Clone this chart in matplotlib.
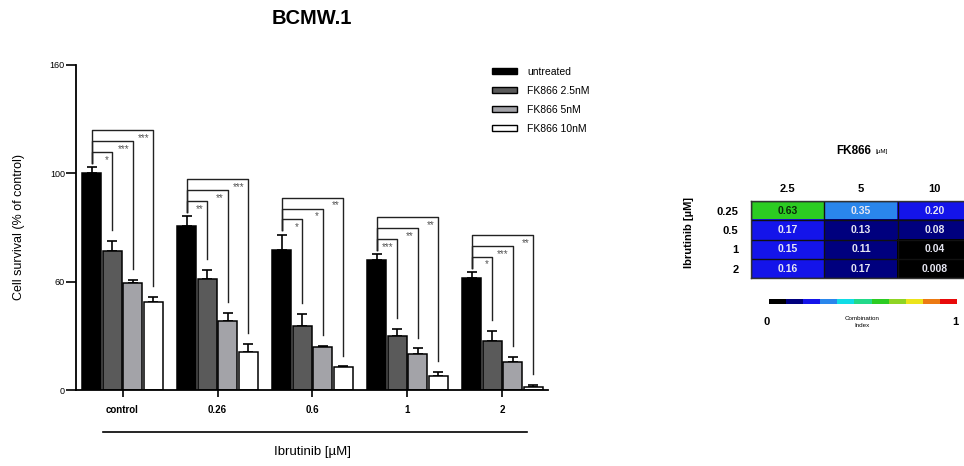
import numpy as np
import matplotlib
matplotlib.use('Agg')
import matplotlib.pyplot as plt
from matplotlib.colors import ListedColormap, BoundaryNorm
from matplotlib.lines import Line2D
from matplotlib.patches import Patch
import matplotlib as mpl

plt.rcParams['font.family'] = ['Liberation Sans', 'DejaVu Sans']

# bar chart data (% of control)
groups = ['control', '0.26', '0.6', '1', '2']
series = ['untreated', 'FK866 2.5nM', 'FK866 5nM', 'FK866 10nM']
untreated = [100.0, 75.9, 64.5, 59.9, 51.5]
fk_25 = [64.2, 51.3, 29.5, 24.9, 22.7]
fk_5 = [49.2, 31.8, 19.7, 16.6, 12.9]
fk_10 = [40.7, 17.4, 10.5, 6.6, 1.2]
err_untreated = [2.8, 4.3, 7.2, 2.8, 2.9]
err_25 = [4.6, 4.0, 5.8, 3.2, 4.6]
err_5 = [1.5, 3.8, 0.6, 2.6, 2.2]
err_10 = [2.3, 3.8, 0.4, 1.7, 1.0]
# significance vs untreated (2.5nM, 5nM, 10nM)
stars = [['*', '***', '***'],
         ['**', '**', '***'],
         ['*', '*', '**'],
         ['***', '**', '**'],
         ['*', '***', '**']]
ytick_vals = [0, 50, 100, 150]
ytick_labels = ['0', '60', '100', '160']

# combination index table
fk_doses = ['2.5', '5', '10']
ibr_doses = ['0.25', '0.5', '1', '2']
ci_text = [['0.63', '0.35', '0.20'],
           ['0.17', '0.13', '0.08'],
           ['0.15', '0.11', '0.04'],
           ['0.16', '0.17', '0.008']]
# colour class of each cell as shown (0..10 on the 0-1 scale)
ci_level = [[6, 3, 2],
            [2, 1, 1],
            [2, 1, 0],
            [2, 1, 0]]
ci_colors = ['#000000', '#00007e', '#1414ea', '#2a86ec', '#10dce6', '#22d98a',
             '#2ccc22', '#8fd424', '#ece41a', '#ec7a12', '#e80a0a']

values = [untreated, fk_25, fk_5, fk_10]
errors = [err_untreated, err_25, err_5, err_10]
bar_colors = ['#000000', '#5a5a5a', '#a3a3a8', '#ffffff']

fig = plt.figure(figsize=(9.64, 4.66), dpi=100)
ax = fig.add_axes([76 / 964, 76 / 466, 472 / 964, 325 / 466])

x = np.arange(len(groups))
w = 0.216
for i in range(4):
    xi = x + (i - 1.5) * w
    ax.bar(xi, values[i], width=w * 0.94, color=bar_colors[i],
           edgecolor='black', linewidth=1.1, zorder=2)
    ax.errorbar(xi, values[i], yerr=[np.zeros(len(groups)), errors[i]],
                fmt='none', ecolor='black', elinewidth=1.2, capsize=3.5,
                capthick=1.2, zorder=1)

for g in range(len(groups)):
    xb = g - 1.5 * w
    top_b = values[0][g] + errors[0][g]
    base = top_b + 7
    for j in range(1, 4):
        xj = g + (j - 1.5) * w
        h = base + (j - 1) * 5
        top_j = values[j][g] + errors[j][g] + 5
        ax.plot([xb, xb, xj, xj], [top_b + 2, h, h, top_j],
                color='#222222', lw=1.0, zorder=3)
        ax.text(xj - 0.04, h - 1.2, stars[g][j - 1], ha='right', va='top',
                fontsize=7, color='#555555')

ax.set_xlim(-0.49, 4.48)
ax.set_ylim(0, 150)
ax.set_yticks(ytick_vals)
ax.set_yticklabels(ytick_labels, fontsize=6.5)
ax.set_xticks(x)
ax.set_xticklabels(groups, fontsize=7, fontweight='bold')
ax.tick_params(axis='y', length=7, width=1.2, pad=1)
ax.tick_params(axis='x', length=5, width=1.2, pad=6)
for s in ['top', 'right']:
    ax.spines[s].set_visible(False)
for s in ['left', 'bottom']:
    ax.spines[s].set_linewidth(1.3)
ax.set_ylabel('Cell survival (% of control)', fontsize=9, labelpad=18)

fig.add_artist(Line2D([103 / 964, 527 / 964], [1 - 432 / 466, 1 - 432 / 466],
                      color='black', lw=1.2))
fig.text(313 / 964, 1 - 452 / 466, 'Ibrutinib [µM]', ha='center', va='center',
         fontsize=9.5)
fig.text(312 / 964, 1 - 19 / 466, 'BCMW.1', ha='center', va='center',
         fontsize=14.5, fontweight='bold')

handles = [Patch(facecolor=c, edgecolor='black', linewidth=1.0) for c in bar_colors]
ax.legend(handles, series, loc='upper left', bbox_to_anchor=(492 / 964, 1 - 67 / 466),
          bbox_transform=fig.transFigure, frameon=False, fontsize=7.5,
          handlelength=2.4, handleheight=0.45, handletextpad=1.0,
          labelspacing=0.85, borderpad=0, borderaxespad=0)

# heatmap
cmap = ListedColormap(ci_colors)
hx = fig.add_axes([751 / 964, 1 - 278.3 / 466, 220 / 964, 77.3 / 466])
hx.imshow(np.array(ci_level), cmap=cmap, vmin=-0.5, vmax=10.5, aspect='auto')
for r in range(len(ibr_doses)):
    for c in range(len(fk_doses)):
        col = '#0b2a0b' if ci_level[r][c] >= 5 else '#e6e6f2'
        hx.text(c, r, ci_text[r][c], ha='center', va='center', fontsize=7.5,
                fontweight='bold', color=col)
hx.set_xticks(np.arange(len(fk_doses) + 1) - 0.5, minor=True)
hx.set_yticks(np.arange(len(ibr_doses) + 1) - 0.5, minor=True)
hx.grid(which='minor', color='#111111', lw=1.0)
hx.tick_params(which='both', length=0)
hx.xaxis.tick_top()
hx.set_xticks(range(len(fk_doses)))
hx.set_xticklabels(fk_doses, fontsize=8, fontweight='bold')
hx.set_yticks(range(len(ibr_doses)))
hx.set_yticklabels(ibr_doses, fontsize=8, fontweight='bold')
hx.tick_params(axis='x', pad=5)
hx.tick_params(axis='y', pad=9)
for s in hx.spines.values():
    s.set_linewidth(1.0)
    s.set_color('#333333')

fig.text(871 / 964, 1 - 151 / 466, 'FK866', ha='right', va='center',
         fontsize=8.5, fontweight='bold')
fig.text(875 / 964, 1 - 152 / 466, '[µM]', ha='left', va='center', fontsize=4.5)
fig.text(689 / 964, 1 - 233 / 466, 'Ibrutinib [µM]', ha='center', va='center',
         rotation=90, fontsize=8, fontweight='bold')

cax = fig.add_axes([769 / 964, 1 - 304 / 466, 188 / 964, 5 / 466])
cb = mpl.colorbar.ColorbarBase(cax, cmap=cmap, norm=BoundaryNorm(np.linspace(0, 1, 12), 11),
                               orientation='horizontal')
cb.set_ticks([])
cax.minorticks_off()
cax.tick_params(which='both', length=0, labelbottom=False)
cb.outline.set_visible(False)
fig.text(767 / 964, 1 - 322 / 466, '0', ha='center', va='center', fontsize=8,
         fontweight='bold')
fig.text(955 / 964, 1 - 322 / 466, '1', ha='center', va='center', fontsize=8,
         fontweight='bold')
fig.text(862 / 964, 1 - 322 / 466, 'Combination\nIndex', ha='center', va='center',
         fontsize=4.5, linespacing=1.5)

fig.savefig('out.png', dpi=100)
